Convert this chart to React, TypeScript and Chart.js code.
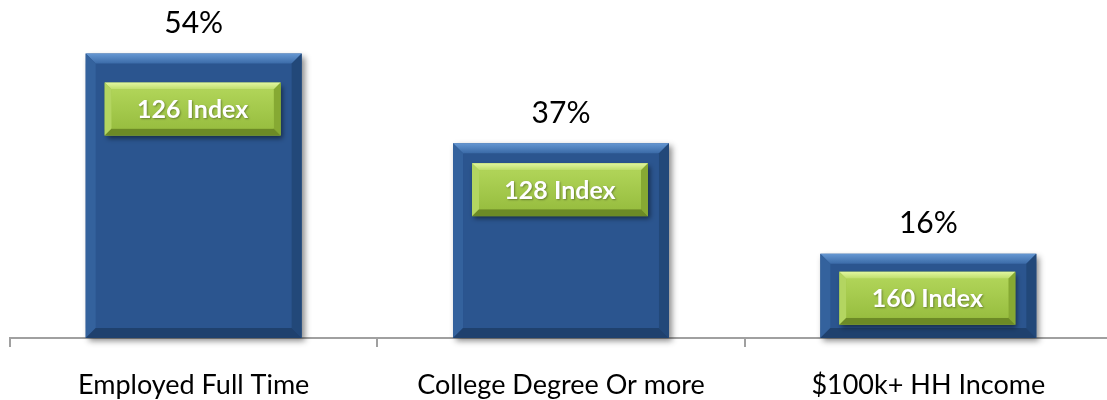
import React, { useEffect, useRef } from "react";
import { Chart, registerables } from "chart.js";

Chart.register(...registerables);

// Chart data
const categories = ["Employed Full Time", "College Degree Or more", "$100k+ HH Income"];
const shareValues = [54, 37, 16];
const indexValues = [126, 128, 160];

// Styling
const FONT = "Lato, 'Open Sans', sans-serif";
const indexBoxTopOffsets = [29, 20, 18];
const INDEX_BOX_W = 176;
const INDEX_BOX_H = 53;

type Shade = { base: string; topA: string; topB: string; left: string; right: string; bottom: string };

const blueShade: Shade = {
  base: "#2b558f",
  topA: "#6597d2",
  topB: "#3b6ba8",
  left: "#34629d",
  right: "#224879",
  bottom: "#1f416e",
};

const greenShade: Shade = {
  base: "#9fc545",
  topA: "#e2f7a0",
  topB: "#bddd6a",
  left: "#b3d561",
  right: "#86a933",
  bottom: "#6c8a26",
};

function poly(ctx: CanvasRenderingContext2D, pts: number[][], fill: string | CanvasGradient) {
  ctx.beginPath();
  ctx.moveTo(pts[0][0], pts[0][1]);
  for (let i = 1; i < pts.length; i++) ctx.lineTo(pts[i][0], pts[i][1]);
  ctx.closePath();
  ctx.fillStyle = fill;
  ctx.fill();
}

function bevel(ctx: CanvasRenderingContext2D, l: number, t: number, r: number, b: number, w: number, s: Shade) {
  const tg = ctx.createLinearGradient(0, t, 0, t + w);
  tg.addColorStop(0, s.topA);
  tg.addColorStop(1, s.topB);
  poly(ctx, [[l, t], [r, t], [r - w, t + w], [l + w, t + w]], tg);
  poly(ctx, [[l, t], [l + w, t + w], [l + w, b - w], [l, b]], s.left);
  poly(ctx, [[r, t], [r, b], [r - w, b - w], [r - w, t + w]], s.right);
  poly(ctx, [[l, b], [l + w, b - w], [r - w, b - w], [r, b]], s.bottom);
}

const bevelPlugin = {
  id: "bevelBars",
  beforeDatasetsDraw(chart: any) {
    const ctx = chart.ctx as CanvasRenderingContext2D;
    ctx.save();
    ctx.shadowColor = "rgba(0,0,0,0.45)";
    ctx.shadowBlur = 6;
    ctx.shadowOffsetX = 3;
    ctx.shadowOffsetY = 3;
  },
  afterDatasetsDraw(chart: any) {
    const ctx = chart.ctx as CanvasRenderingContext2D;
    ctx.restore();
    const meta = chart.getDatasetMeta(0);
    meta.data.forEach((bar: any, i: number) => {
      const { x, y, base, width } = bar.getProps(["x", "y", "base", "width"], true);
      const l = x - width / 2;
      const r = x + width / 2;
      bevel(ctx, l, y, r, base, 10, blueShade);

      // index box
      const bl = x - INDEX_BOX_W / 2 - 1;
      const bt = y + indexBoxTopOffsets[i];
      ctx.save();
      ctx.shadowColor = "rgba(0,0,0,0.5)";
      ctx.shadowBlur = 5;
      ctx.shadowOffsetX = 2;
      ctx.shadowOffsetY = 3;
      ctx.fillStyle = greenShade.base;
      ctx.fillRect(bl, bt, INDEX_BOX_W, INDEX_BOX_H);
      ctx.restore();
      bevel(ctx, bl, bt, bl + INDEX_BOX_W, bt + INDEX_BOX_H, 7, greenShade);
      const fg = ctx.createLinearGradient(0, bt + 7, 0, bt + INDEX_BOX_H - 7);
      fg.addColorStop(0, "#b0d458");
      fg.addColorStop(1, "#98be40");
      ctx.fillStyle = fg;
      ctx.fillRect(bl + 7, bt + 7, INDEX_BOX_W - 14, INDEX_BOX_H - 14);

      ctx.save();
      ctx.font = `bold 25px ${FONT}`;
      ctx.textAlign = "center";
      ctx.textBaseline = "middle";
      ctx.shadowColor = "rgba(0,0,0,0.35)";
      ctx.shadowBlur = 2;
      ctx.shadowOffsetX = 1;
      ctx.shadowOffsetY = 1;
      ctx.fillStyle = "#ffffff";
      ctx.fillText(`${indexValues[i]} Index`, bl + INDEX_BOX_W / 2, bt + INDEX_BOX_H / 2 + 1);
      ctx.restore();

      // share label
      ctx.save();
      ctx.font = `30px ${FONT}`;
      ctx.textAlign = "center";
      ctx.textBaseline = "middle";
      ctx.fillStyle = "#000000";
      ctx.fillText(`${shareValues[i]}%`, x, y - 30);
      ctx.restore();
    });
  },
};

export default function App() {
  const canvasRef = useRef<HTMLCanvasElement | null>(null);

  useEffect(() => {
    if (!canvasRef.current) return;
    const chart = new Chart(canvasRef.current, {
      type: "bar",
      data: {
        labels: categories,
        datasets: [
          {
            data: shareValues,
            backgroundColor: blueShade.base,
            borderWidth: 0,
            barPercentage: 0.588,
            categoryPercentage: 1,
            clip: false as any,
          },
        ],
      },
      options: {
        responsive: false,
        animation: false,
        devicePixelRatio: 1,
        layout: { padding: { left: 10, top: 22, right: 0, bottom: 0 } },
        plugins: {
          legend: { display: false },
          tooltip: { enabled: false },
        },
        scales: {
          y: { display: false, min: 0, max: 60 },
          x: {
            afterFit: (scale: any) => {
              scale.height = 62;
            },
            border: { display: true, color: "#a0a0a0", width: 2 },
            grid: {
              offset: true,
              drawOnChartArea: false,
              drawTicks: true,
              tickLength: 9,
              color: "#a0a0a0",
              lineWidth: 2,
            },
            ticks: {
              color: "#000000",
              padding: 22,
              font: { family: FONT, size: 27 },
              maxRotation: 0,
            },
          },
        },
      },
      plugins: [bevelPlugin],
    });
    return () => chart.destroy();
  }, []);

  return (
    <div style={{ position: "fixed", left: 0, top: 0, width: 1112, height: 400, background: "#ffffff" }}>
      <canvas ref={canvasRef} width={1112} height={400} />
    </div>
  );
}
